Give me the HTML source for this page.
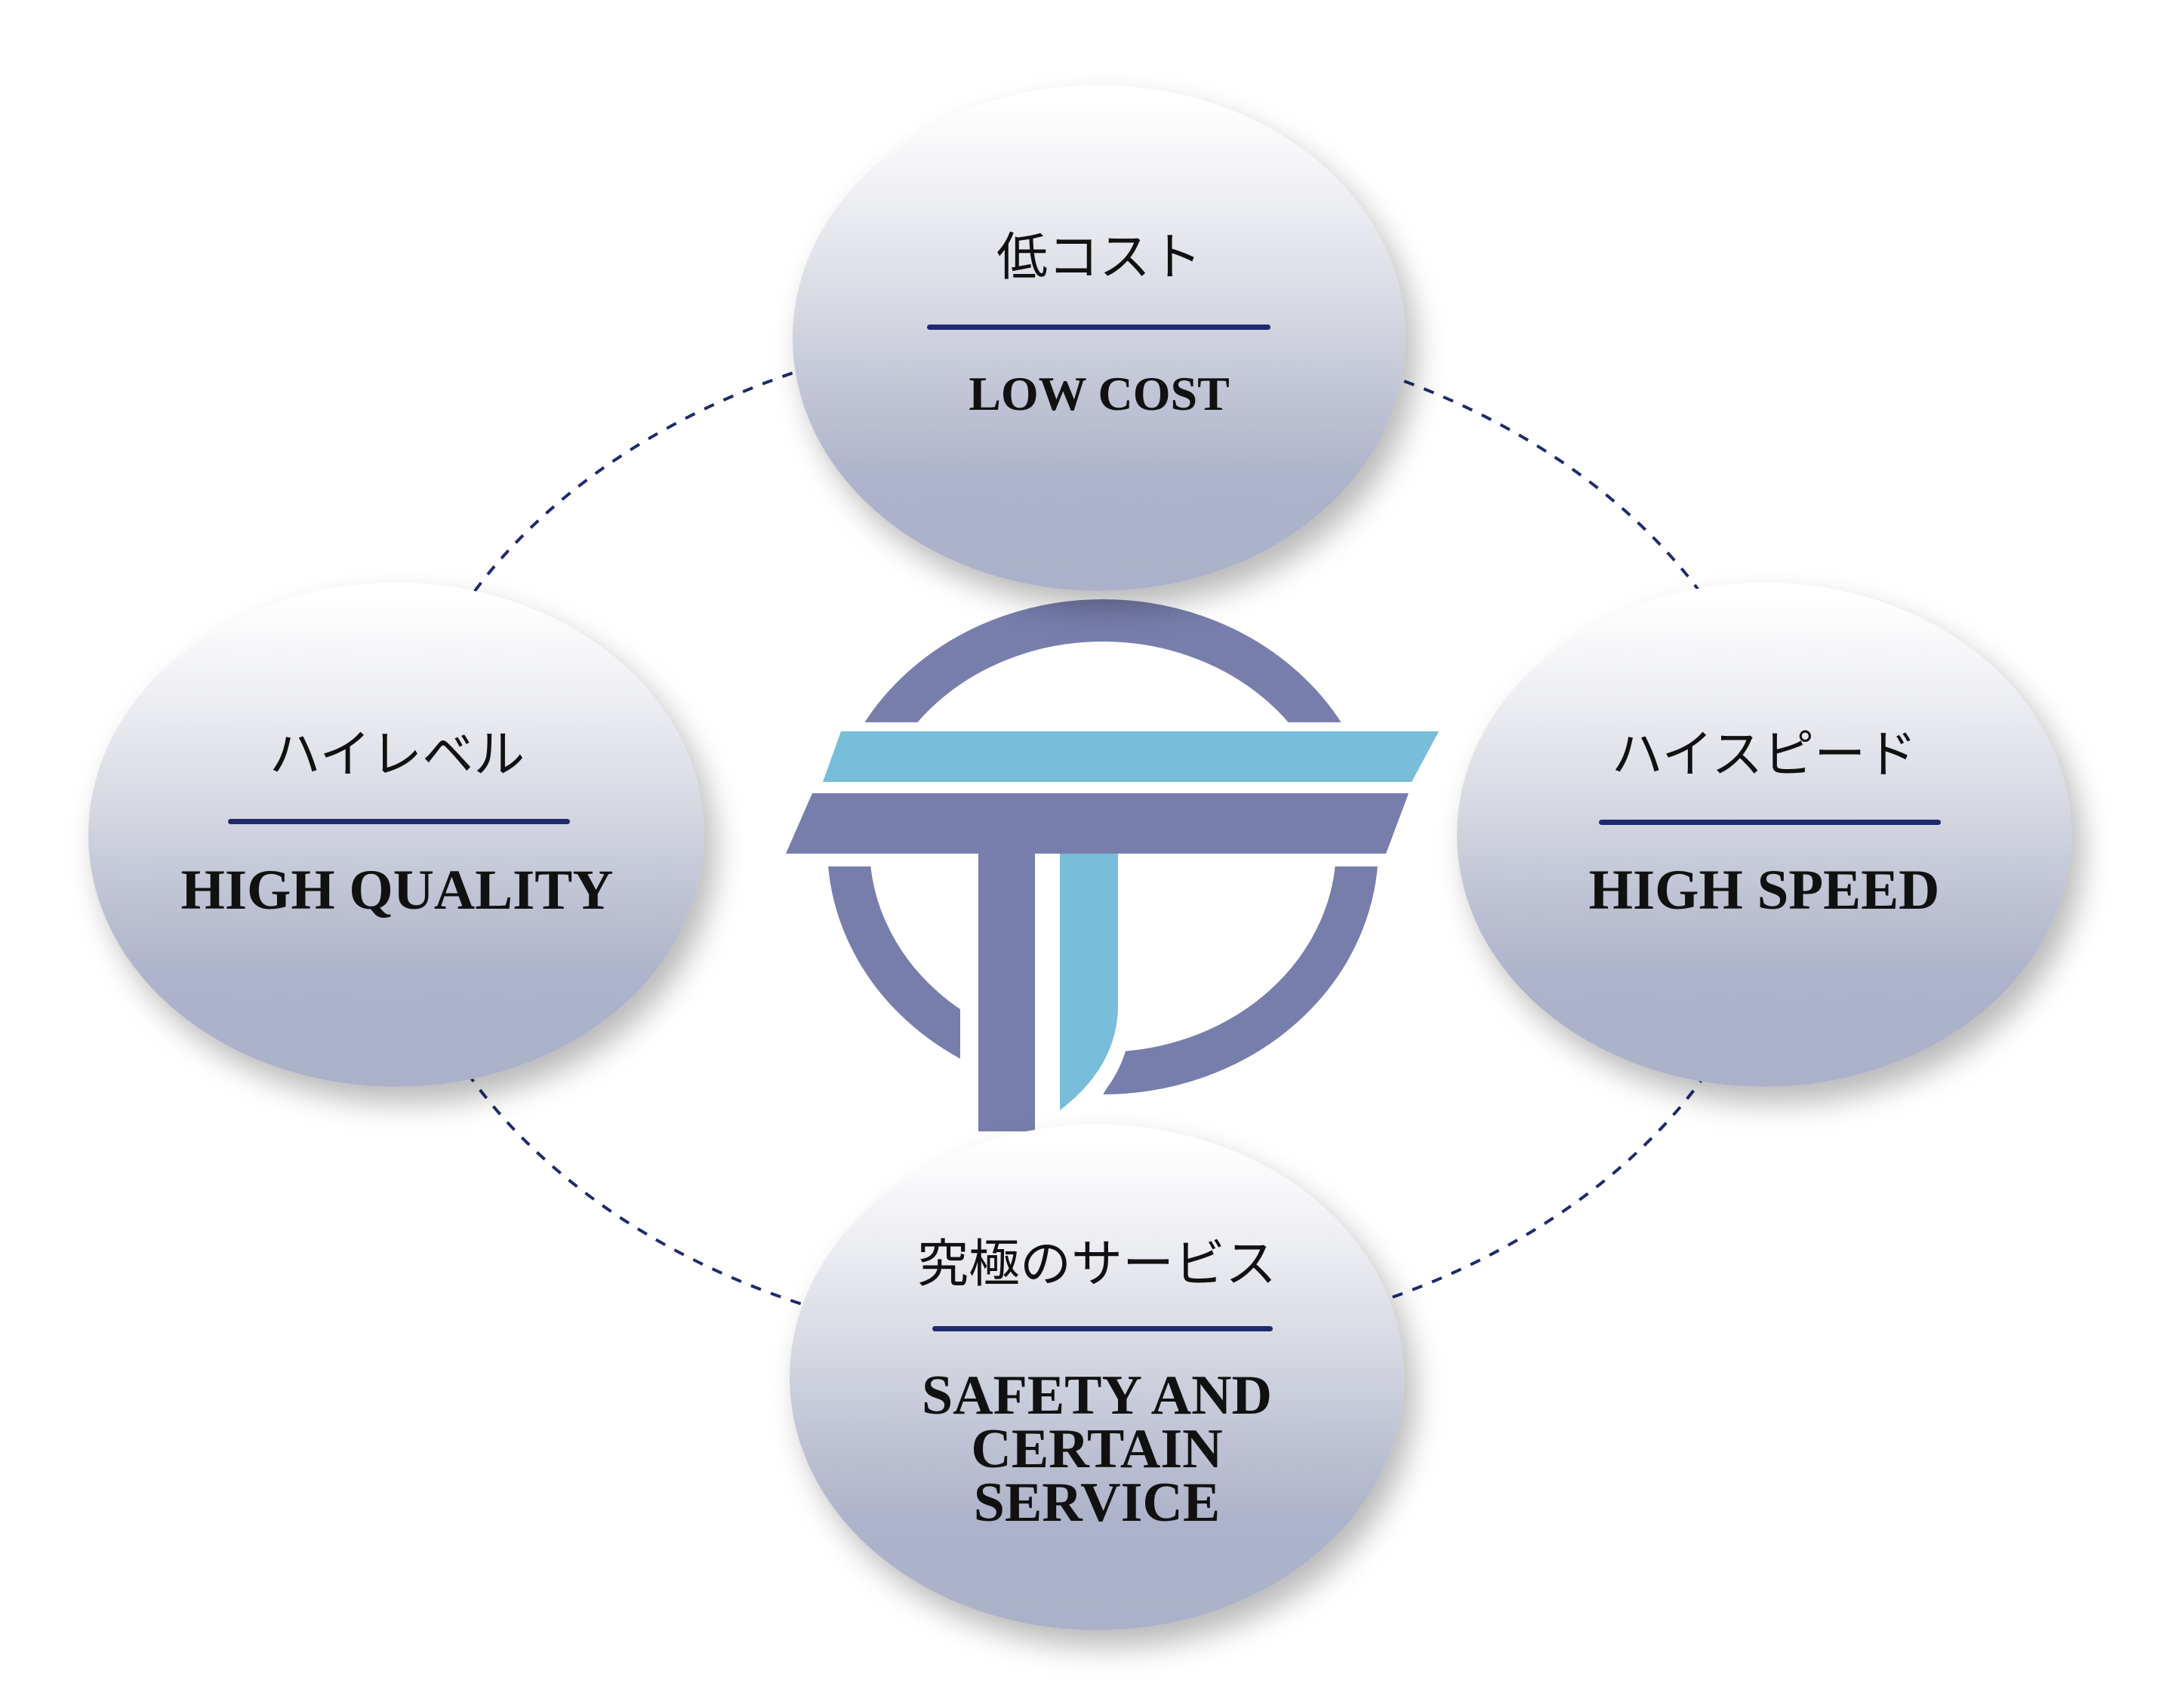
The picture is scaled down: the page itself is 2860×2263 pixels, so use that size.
<!DOCTYPE html>
<html><head><meta charset="utf-8"><style>
html,body{margin:0;padding:0;background:#fff}
body{width:2860px;height:2263px;position:relative;overflow:hidden}
.b{position:absolute;border-radius:50%;background:linear-gradient(to bottom,#ffffff 3%,#eeeff3 22%,#d9dbe4 42%,#bfc3d4 62%,#adb3ca 78%,#abb1c8 100%);box-shadow:14px 22px 40px rgba(0,0,0,0.28)}
.t{position:absolute;text-align:center;color:#111}
.ja{font-family:"Liberation Sans","Noto Sans CJK JP",sans-serif;font-size:68px;line-height:68px}
.en{font-family:"Liberation Serif",serif;font-weight:bold;color:#111}
.ln{position:absolute;height:7px;border-radius:4px;background:#1f2a6e}
</style></head><body>
<svg width="2860" height="2263" style="position:absolute;left:0;top:0">
<ellipse cx="1440" cy="1109" rx="925" ry="678" fill="none" stroke="#1f2a6e" stroke-width="4" stroke-dasharray="14 14"/>
<ellipse cx="1461" cy="1122" rx="337" ry="300" fill="none" stroke="#787eac" stroke-width="56"/>
<rect x="1000" y="957" width="950" height="191" fill="#fff"/>
<path d="M1272 1140 H1498 V1364 Q1490 1410 1466 1442 L1420 1520 H1272 Z" fill="#fff"/>
<polygon points="1114,969 1906,969 1870,1036 1090,1036" fill="#78bdda"/>
<polygon points="1076,1051 1866,1051 1836,1131 1041,1131" fill="#787eac"/>
<rect x="1296" y="1131" width="75" height="368" fill="#787eac"/>
<path d="M1404 1131 H1481 V1337 Q1478 1415 1404 1471 Z" fill="#78bdda"/>
</svg>

<div class="b" style="left:1050px;top:113px;width:812px;height:670px"></div>
<div class="b" style="left:117px;top:772px;width:816px;height:668px"></div>
<div class="b" style="left:1930px;top:772px;width:814px;height:668px"></div>
<div class="b" style="left:1046px;top:1490px;width:814px;height:670px"></div>

<div class="t ja" style="left:1056px;width:800px;top:307px">低コスト</div>
<div class="ln" style="left:1228px;width:455px;top:430px"></div>
<div class="t en" style="left:1056px;width:800px;top:490px;font-size:64px;line-height:64px">LOW COST</div>

<div class="t ja" style="left:126px;width:800px;top:966px">ハイレベル</div>
<div class="ln" style="left:302px;width:453px;top:1085px"></div>
<div class="t en" style="left:126px;width:800px;top:1142px;font-size:75px;line-height:75px">HIGH QUALITY</div>

<div class="t ja" style="left:1937px;width:800px;top:966px">ハイスピード</div>
<div class="ln" style="left:2118px;width:453px;top:1086px"></div>
<div class="t en" style="left:1937px;width:800px;top:1142px;font-size:75px;line-height:75px">HIGH SPEED</div>

<div class="t ja" style="left:1053px;width:800px;top:1641px">究極のサービス</div>
<div class="ln" style="left:1235px;width:451px;top:1757px"></div>
<div class="t en" style="left:1053px;width:800px;top:1814px;font-size:74px;line-height:71px">SAFETY AND<br>CERTAIN<br>SERVICE</div>
</body></html>
